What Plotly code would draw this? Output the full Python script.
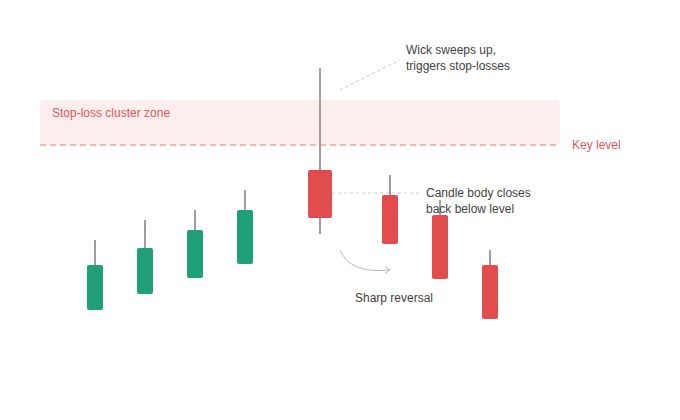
import plotly.graph_objects as go

# ---- data (price units) ----
x_pos = [1, 2, 3, 4, 5.5, 6.9, 7.9, 8.9]
opens = [110, 126, 142, 156, 250, 225, 205, 155]
closes = [155, 172, 190, 210, 202, 176, 141, 101]
highs = [180, 200, 210, 230, 352, 245, 220, 170]
lows = [110, 126, 142, 156, 186, 176, 141, 101]
body_w = [0.32, 0.32, 0.32, 0.32, 0.48, 0.32, 0.32, 0.32]
key_level = 275
zone_top = 320

GREEN = "#1fa078"
RED = "#e34c4c"
WICK = "#a19f99"
TXT = "#3f3f3f"
RTXT = "#e05858"
FONT = "Liberation Sans, Arial, sans-serif"

fig = go.Figure()

# bodies
colors = [GREEN if c >= o else RED for o, c in zip(opens, closes)]
fig.add_trace(go.Bar(
    x=x_pos,
    base=[min(o, c) for o, c in zip(opens, closes)],
    y=[abs(c - o) for o, c in zip(opens, closes)],
    width=body_w,
    marker=dict(color=colors, line=dict(width=0), cornerradius=2),
    hoverinfo="skip",
))

# wicks (upper and lower segments outside the body)
wx, wy = [], []
for x, o, c, lo, hi in zip(x_pos, opens, closes, lows, highs):
    top, bot = max(o, c), min(o, c)
    if hi > top:
        wx += [x, x, None]
        wy += [top, hi, None]
    if lo < bot:
        wx += [x, x, None]
        wy += [lo, bot, None]
fig.add_trace(go.Scatter(x=wx, y=wy, mode="lines",
                         line=dict(color=WICK, width=2), hoverinfo="skip"))

# zone (rounded rect)
x0, x1, y0, y1 = -0.1, 10.3, key_level, zone_top
rx, ry = 0.1, 5
zone_path = (f"M {x0+rx},{y0} L {x1-rx},{y0} Q {x1},{y0} {x1},{y0+ry} "
             f"L {x1},{y1-ry} Q {x1},{y1} {x1-rx},{y1} L {x0+rx},{y1} "
             f"Q {x0},{y1} {x0},{y1-ry} L {x0},{y0+ry} Q {x0},{y0} {x0+rx},{y0} Z")
shapes = [
    dict(type="path", path=zone_path, fillcolor="#fdeeee",
         line=dict(width=0), layer="below"),
    dict(type="line", x0=-0.1, x1=10.22, y0=key_level, y1=key_level,
         line=dict(color="#f2a3a3", width=1.5, dash="6px,4px"), layer="below"),
    # dotted close-level line
    dict(type="line", x0=5.74, x1=7.5, y0=227, y1=227,
         line=dict(color="#cfcfcf", width=1, dash="3px,3px"), layer="below"),
    # diagonal leader
    dict(type="line", x0=5.9, y0=330, x1=7.1, y1=360,
         line=dict(color="#c4c4c4", width=1, dash="3px,3px")),
    # curved arrow
    dict(type="path", path="M 5.9,170 Q 6.1,146 6.88,150",
         line=dict(color="#b8b8b8", width=1)),
    dict(type="path", path="M 6.8,153.5 L 6.9,150 L 6.8,146.5",
         line=dict(color="#b8b8b8", width=1)),
]

annotations = [
    dict(x=0.1, y=307, text="Stop-loss cluster zone", xanchor="left",
         yanchor="middle", showarrow=False, font=dict(color=RTXT, size=12, family=FONT)),
    dict(x=10.5, y=key_level, text="Key level", xanchor="left",
         yanchor="middle", showarrow=False, font=dict(color=RTXT, size=12, family=FONT)),
    dict(x=7.18, y=362, text="Wick sweeps up,<br>triggers stop-losses", xanchor="left",
         yanchor="middle", align="left", showarrow=False,
         font=dict(color=TXT, size=12, family=FONT)),
    dict(x=7.58, y=219, text="Candle body closes<br>back below level", xanchor="left",
         yanchor="middle", align="left", showarrow=False,
         font=dict(color=TXT, size=12, family=FONT)),
    dict(x=6.16, y=122, text="Sharp reversal", xanchor="left",
         yanchor="middle", showarrow=False, font=dict(color=TXT, size=12, family=FONT)),
]

fig.update_layout(
    width=680, height=420,
    margin=dict(l=0, r=0, t=0, b=0),
    paper_bgcolor="white", plot_bgcolor="white",
    showlegend=False,
    shapes=shapes, annotations=annotations,
    xaxis=dict(range=[-0.9, 12.7], visible=False, fixedrange=True),
    yaxis=dict(range=[0, 420], visible=False, fixedrange=True),
    font=dict(family=FONT),
)

fig.write_html("out.html")
